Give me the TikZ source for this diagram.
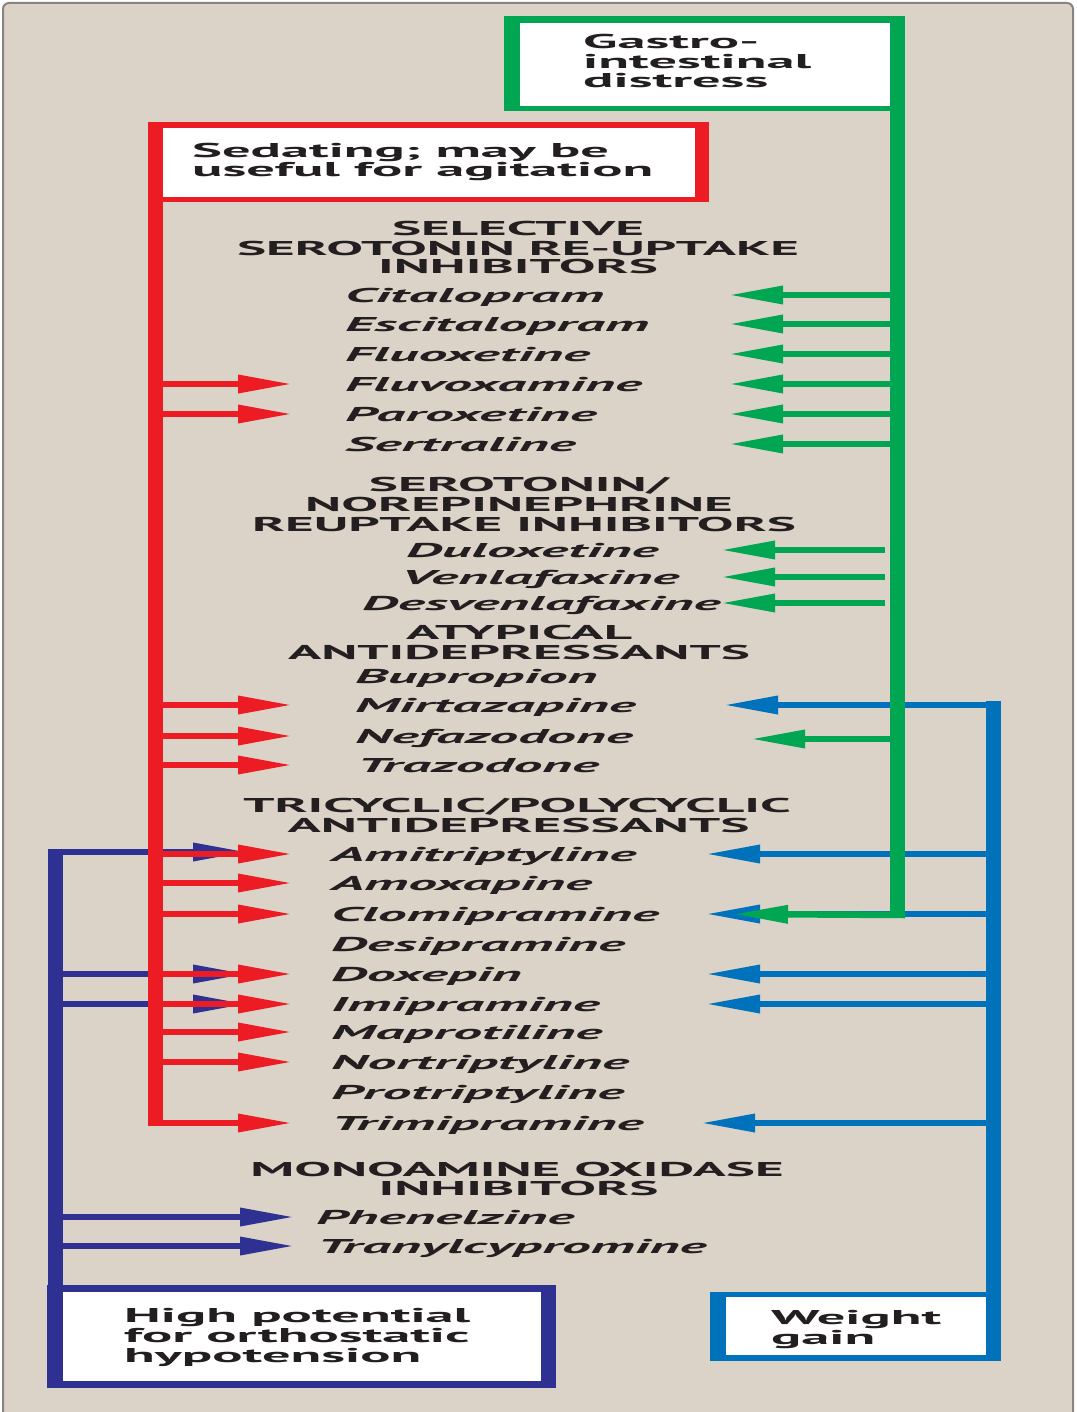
\documentclass[tikz,border=0pt]{standalone}
\usepackage{fontspec}
\usetikzlibrary{arrows.meta}
% Stretched bold sans faces for the three kinds of labels
\newfontfamily\labelfont[FakeStretch=2.82]{PT Sans}
\newfontfamily\headfont[FakeStretch=2.75]{PT Sans}
\newfontfamily\drugfont[FakeStretch=2.88]{PT Sans}
\definecolor{paper}{HTML}{DCD3C8}
\definecolor{rim}{HTML}{8A847E}
\definecolor{ink}{HTML}{231F20}
\definecolor{sedred}{HTML}{ED1C24}
\definecolor{gigreen}{HTML}{00A651}
\definecolor{wgblue}{HTML}{0072BC}
\definecolor{ohnavy}{HTML}{2E3192}
\begin{document}
\begin{tikzpicture}[x=1pt,y=-1pt,
  txt/.style={inner sep=0pt, text height=14pt, text depth=0pt, text=ink},
  boxline/.style={txt, anchor=west, font=\labelfont\bfseries\fontsize{20}{20}\selectfont},
  headline/.style={txt, anchor=center, font=\headfont\bfseries\fontsize{20}{20}\selectfont},
  drug/.style={txt, anchor=west, font=\drugfont\bfseries\itshape\fontsize{20}{20}\selectfont},
  trunk/.style={line width=15pt},
  arr/.style={line width=6.5pt, -{Triangle[length=55pt,width=17pt]}},
]
\useasboundingbox (0,0) rectangle (1076,1412);
% background panel
\fill[white] (0,0) rectangle (1076,1412);
\fill[paper, draw=rim, line width=2pt, rounded corners=6pt] (3,1440) -- (3,3) -- (1073,3) -- (1073,1440) -- cycle;

% ---- headings
\node[headline] (h1a) at (518,229) {SELECTIVE};
\node[headline] (h1b) at (518,248.5) {SEROTONIN RE-UPTAKE};
\node[headline] (h1c) at (518,267) {INHIBITORS};
\node[headline] (h2a) at (519,484) {SEROTONIN/};
\node[headline] (h2b) at (519,504) {NOREPINEPHRINE};
\node[headline] (h2c) at (524,524) {REUPTAKE INHIBITORS};
\node[headline] (h3a) at (519,632) {ATYPICAL};
\node[headline] (h3b) at (519,652) {ANTIDEPRESSANTS};
\node[headline] (h4a) at (517,805) {TRICYCLIC/POLYCYCLIC};
\node[headline] (h4b) at (518.5,825) {ANTIDEPRESSANTS};
\node[headline] (h5a) at (517,1169) {MONOAMINE OXIDASE};
\node[headline] (h5b) at (518.5,1188) {INHIBITORS};

% ---- drug names
\node[drug] (citalo) at (345,295) {Citalopram};
\node[drug] (escita) at (345,324) {Escitalopram};
\node[drug] (fluoxe) at (345,354) {Fluoxetine};
\node[drug] (fluvox) at (345,384) {Fluvoxamine};
\node[drug] (paroxe) at (345,414) {Paroxetine};
\node[drug] (sertra) at (345,444) {Sertraline};
\node[drug] (duloxe) at (406,550) {Duloxetine};
\node[drug] (venlaf) at (401,577) {Venlafaxine};
\node[drug] (desven) at (362,603) {Desvenlafaxine};
\node[drug] (buprop) at (355,676) {Bupropion};
\node[drug] (mirtaz) at (355,705) {Mirtazapine};
\node[drug] (nefazo) at (355,736) {Nefazodone};
\node[drug] (trazod) at (357,765) {Trazodone};
\node[drug] (amitri) at (331,854) {Amitriptyline};
\node[drug] (amoxap) at (331,883) {Amoxapine};
\node[drug] (clomip) at (331,914) {Clomipramine};
\node[drug] (desipr) at (331,944) {Desipramine};
\node[drug] (doxepi) at (331,974) {Doxepin};
\node[drug] (imipra) at (331,1004) {Imipramine};
\node[drug] (maprot) at (331,1032) {Maprotiline};
\node[drug] (nortri) at (331,1062) {Nortriptyline};
\node[drug] (protri) at (331,1092) {Protriptyline};
\node[drug] (trimip) at (331,1123) {Trimipramine};
\node[drug] (phenel) at (316,1217) {Phenelzine};
\node[drug] (tranyl) at (317,1246) {Tranylcypromine};

% ---- trunk and tip columns
\coordinate (redx) at (155.5,0);   \coordinate (redtip) at (293,0);
\coordinate (navx) at (55,0);      \coordinate (navtip) at (248,0);  \coordinate (navtipb) at (295,0);
\coordinate (grnx) at (897.5,0);   \coordinate (gtipa) at (728,0);   \coordinate (gtipb) at (720,0);
\coordinate (gtipc) at (750,0);    \coordinate (gtipd) at (733,0);
\coordinate (blux) at (993.5,0);   \coordinate (btip) at (705,0);    \coordinate (btipm) at (723,0);

% ---- weight gain (blue)
\draw[wgblue, trunk] (blux |- 0,701) -- (blux |- 0,1295);
\draw[wgblue, arr] (1001,705) -- (btipm |- mirtaz);
\foreach \d in {amitri,clomip,doxepi,imipra}
  \draw[wgblue, arr] (blux |- \d) -- (btip |- \d);
\draw[wgblue, arr] (blux |- trimip) -- (700,1123);

% ---- orthostatic hypotension (navy)
\draw[ohnavy, trunk] (navx |- 0,849) -- (navx |- 0,1290);
\draw[ohnavy, arr] (47.5,852) -- (navtip |- 0,852);
\foreach \d in {doxepi,imipra}
  \draw[ohnavy, arr] (navx |- \d) -- (navtip |- \d);
\foreach \d in {phenel,tranyl}
  \draw[ohnavy, arr] (navx |- \d) -- (navtipb |- \d);

% ---- sedating (red)
\draw[sedred, trunk] (redx |- 0,200) -- (redx |- 0,1126.25);
\foreach \d in {fluvox,paroxe,mirtaz,nefazo,trazod,amitri,amoxap,clomip,doxepi,imipra,maprot,nortri}
  \draw[sedred, arr] (redx |- \d) -- (redtip |- \d);
\draw[sedred, arr] (148,1123) -- (redtip |- trimip);

% ---- gastrointestinal distress (green)
\draw[gigreen, trunk] (grnx |- 0,108) -- (grnx |- 0,918.25);
\foreach \d in {citalo,escita,fluoxe,fluvox,paroxe,sertra}
  \draw[gigreen, arr] (grnx |- \d) -- (gtipa |- \d);
\foreach \d in {duloxe,venlaf,desven}
  \draw[gigreen, arr] (885,0 |- \d) -- (gtipb |- \d);
\draw[gigreen, arr] (grnx |- 0,739) -- (gtipc |- 0,739);
\draw[gigreen, arr] (905,915) -- (gtipd |- clomip);

% ---- label boxes
\fill[gigreen] (504,16) rectangle (905,111);
\fill[white] (520,23) rectangle (890,106);
\fill[sedred] (148,122) rectangle (709,202);
\fill[white] (163,128) rectangle (695,197);
\fill[ohnavy] (47,1285) rectangle (556,1388);
\fill[white] (63,1292) rectangle (541,1381);
\fill[wgblue] (710,1292) rectangle (1001,1361);
\fill[white] (726,1297) rectangle (986,1355);

\node[boxline] (gi1) at (583,42) {Gastro-};
\node[boxline] (gi2) at (583,62) {intestinal};
\node[boxline] (gi3) at (583,81) {distress};
\node[boxline] (sd1) at (192,151) {Sedating; may be};
\node[boxline] (sd2) at (192,170) {useful for agitation};
\node[boxline] (oh1) at (124,1315) {High potential};
\node[boxline] (oh2) at (124,1335) {for orthostatic};
\node[boxline] (oh3) at (124,1355) {hypotension};
\node[boxline] (wg1) at (771,1317) {Weight};
\node[boxline] (wg2) at (771,1337) {gain};
\end{tikzpicture}
\end{document}
